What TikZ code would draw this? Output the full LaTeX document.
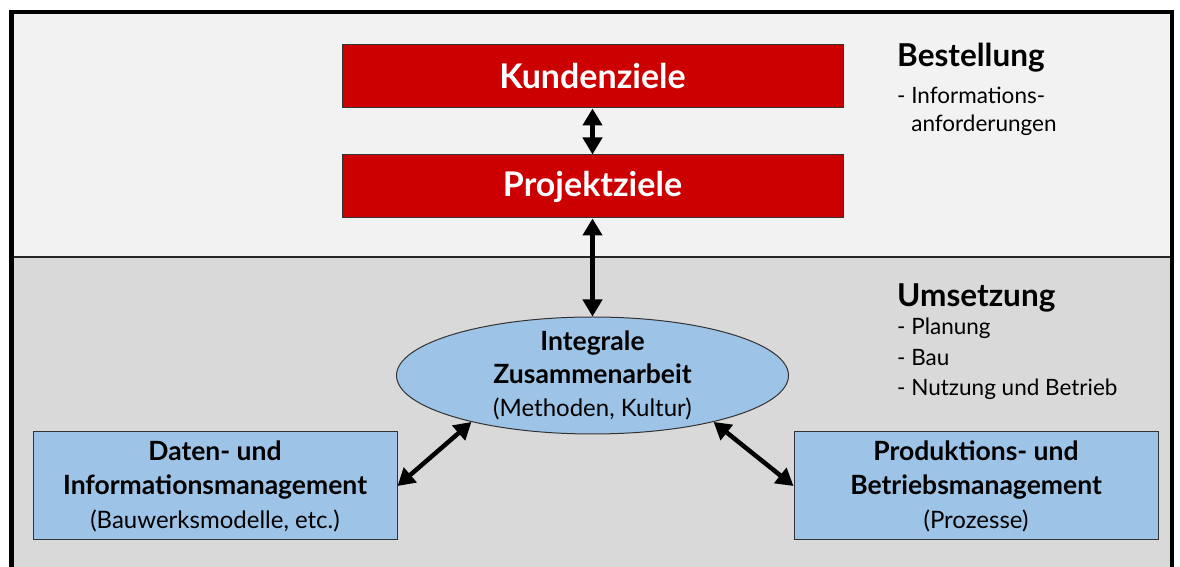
\documentclass[tikz,border=0pt]{standalone}
\usepackage{fontspec}
\setmainfont{Lato}
\usepackage{tikz}
\usetikzlibrary{positioning,arrows.meta,shapes.geometric}
\definecolor{zielred}{RGB}{204, 0, 0}
\definecolor{umsetzblue}{RGB}{157, 195, 230}
\definecolor{bestellgray}{RGB}{242, 242, 242}
\definecolor{umsetzgray}{RGB}{217, 217, 217}
\tikzset{
    goal box/.style={rectangle, draw=black!80, line width=1pt, fill=zielred, text=white, minimum width=501pt, minimum height=63pt, inner sep=0pt, font=\fontsize{34}{40}\selectfont\bfseries},
    work box/.style={rectangle, draw=black!80, line width=1pt, fill=umsetzblue, minimum width=364pt, minimum height=108pt, inner sep=0pt, align=center, font=\fontsize{26.5}{34}\selectfont},
    work ellipse/.style={ellipse, draw=black!80, line width=1pt, fill=umsetzblue, minimum width=392pt, minimum height=117pt, inner sep=0pt},
    work text/.style={align=center, inner sep=0pt, font=\fontsize{26.5}{33}\selectfont},
    phase title/.style={anchor=base west, inner sep=0pt, font=\fontsize{31.5}{36}\selectfont\bfseries},
    phase list/.style={anchor=base west, inner sep=0pt, align=left},
    link arrow/.style={{Triangle[length=17pt,width=19pt]}-{Triangle[length=17pt,width=19pt]}, line width=4.5pt}
}
\newcommand{\subline}[1]{{\fontsize{24}{33}\selectfont #1}}

\begin{document}
\begin{tikzpicture}[x=1pt, y=1pt]
\useasboundingbox (0,0) rectangle (1180,567);
% Background areas and frame
\fill[bestellgray] (12,310) rectangle (1172,555);
\fill[umsetzgray] (12,0) rectangle (1172,310);
\draw[line width=1.5pt, black!85] (12,310) -- (1172,310);
\draw[line width=4.5pt] (11.5,0) -- (11.5,555) -- (1172,555) -- (1172,0);

% Goal nodes
\node[goal box] (kunden) at (592.5,490.5) {Kundenziele};
\node[goal box, below=46pt of kunden] (projekt) {Projektziele};

% Implementation nodes
\node[work ellipse, below=98pt of projekt] (integral) {};
\node[work text] (integraltext) at (integral.center) {\textbf{Integrale}\\\textbf{Zusammenarbeit}\\\subline{(Methoden, Kultur)}};
\node[work box] (daten) at (215,81) {\textbf{Daten- und}\\\textbf{Informationsmanagement}\\\subline{(Bauwerksmodelle, etc.)}};
\node[work box, right=396pt of daten] (prozess) {\textbf{Produktions- und}\\\textbf{Betriebsmanagement}\\\subline{(Prozesse)}};

% Phase labels (base = last line)
\node[phase title] (bestellung) at (897,500) {Bestellung};
\node[phase list, font=\fontsize{22.5}{28}\selectfont] (bestellliste) at (897,435) {- Informations-\\\phantom{- }anforderungen};
\node[phase title] (umsetzung) at (897,260) {Umsetzung};
\node[phase list, font=\fontsize{22.5}{30.5}\selectfont] (umsetzliste) at (897,171) {- Planung\\- Bau\\- Nutzung und Betrieb};

% Arrows
\draw[link arrow] (kunden) -- (projekt);
\draw[link arrow] (projekt) -- (integral);
\draw[link arrow] (daten.east) -- (integral.201);
\draw[link arrow] (integral.339) -- (prozess.west);
\end{tikzpicture}
\end{document}
